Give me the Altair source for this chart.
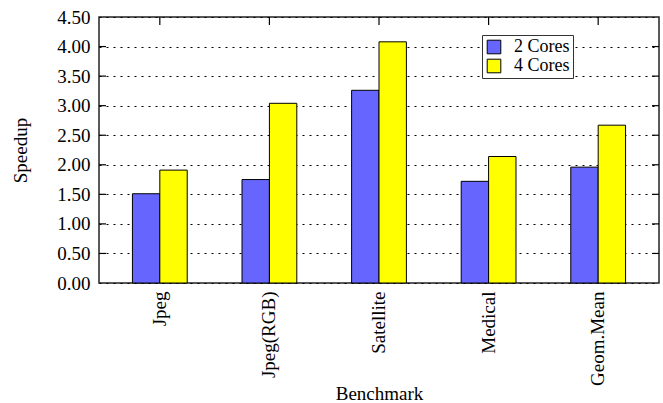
import altair as alt
import pandas as pd

# Benchmarks and measured speedups
benchmarks = ["Jpeg", "Jpeg(RGB)", "Satellite", "Medical", "Geom.Mean"]
cores_2 = [1.51, 1.75, 3.26, 1.72, 1.96]
cores_4 = [1.91, 3.04, 4.08, 2.14, 2.67]
series = ["2 Cores", "4 Cores"]
colors = ["#6666ff", "#ffff00"]
y_ticks = [0.0, 0.5, 1.0, 1.5, 2.0, 2.5, 3.0, 3.5, 4.0, 4.5]
inner_ticks = [0.5, 1.0, 1.5, 2.0, 2.5, 3.0, 3.5, 4.0]

W, H = 560, 266
FONT = "'Liberation Serif', 'Times New Roman', Times, 'DejaVu Serif', serif"

rows = []
for b, v2, v4 in zip(benchmarks, cores_2, cores_4):
    rows.append({"Benchmark": b, "Series": series[0], "Speedup": v2})
    rows.append({"Benchmark": b, "Series": series[1], "Speedup": v4})
df = pd.DataFrame(rows)

x_scale = alt.Scale(domain=benchmarks, paddingInner=0.5, paddingOuter=0.305)
y_scale = alt.Scale(domain=[0, 4.5], nice=False, zero=True)

x_axis = alt.Axis(
    title="Benchmark",
    labelAngle=-90,
    labelPadding=8,
    labelOverlap=False,
    ticks=False,
    domain=False,
    titleY=116,
    titleBaseline="alphabetic",
)
y_axis = alt.Axis(
    title="Speedup",
    values=y_ticks,
    format=".2f",
    labelOverlap=False,
    ticks=False,
    domain=False,
    labelPadding=9,
    titlePadding=26,
    grid=True,
    gridColor="black",
    gridDash=[2, 5],
    gridWidth=1,
    gridOpacity=1,
)

bars = alt.Chart(df).mark_bar(stroke="black", strokeWidth=1).encode(
    x=alt.X("Benchmark:N", scale=x_scale, sort=benchmarks, axis=x_axis),
    xOffset=alt.XOffset("Series:N", sort=series, scale=alt.Scale(paddingInner=0, paddingOuter=0)),
    y=alt.Y("Speedup:Q", scale=y_scale, axis=y_axis),
    color=alt.Color(
        "Series:N",
        sort=series,
        scale=alt.Scale(domain=series, range=colors),
        legend=alt.Legend(
            title=None,
            orient="none",
            legendX=383,
            legendY=18,
            symbolType="square",
            symbolSize=185,
            symbolStrokeColor="black",
            symbolStrokeWidth=1,
            symbolOpacity=1,
            labelFont=FONT,
            labelFontSize=18,
            labelColor="black",
            labelOffset=11,
            rowPadding=1,
            padding=3,
            strokeColor="#333333",
            fillColor="white",
        ),
    ),
)

# Inward tick marks on the left, right and top edges of the frame
tick_df = pd.DataFrame({"v": inner_ticks})
left_ticks = alt.Chart(tick_df).mark_rule(color="black", strokeWidth=1.2).encode(
    x=alt.value(0), x2=alt.value(7), y=alt.Y("v:Q", scale=y_scale, axis=y_axis)
)
right_ticks = alt.Chart(tick_df).mark_rule(color="black", strokeWidth=1.2).encode(
    x=alt.value(W - 7), x2=alt.value(W), y=alt.Y("v:Q", scale=y_scale, axis=y_axis)
)
cat_df = pd.DataFrame({"Benchmark": benchmarks})
top_ticks = alt.Chart(cat_df).mark_rule(color="black", strokeWidth=1.2).encode(
    x=alt.X("Benchmark:N", scale=x_scale, sort=benchmarks, axis=x_axis),
    y=alt.value(0),
    y2=alt.value(8),
)

chart = (
    alt.layer(bars, left_ticks, right_ticks, top_ticks)
    .properties(
        width=W,
        height=H,
        autosize="none",
        padding={"left": 99, "top": 17, "right": 4, "bottom": 120},
    )
    .configure_view(stroke="#222222", strokeWidth=1.5)
    .configure_axis(
        labelFont=FONT,
        titleFont=FONT,
        labelFontSize=19,
        titleFontSize=19,
        titleFontWeight="normal",
        labelColor="black",
        titleColor="black",
    )
)

chart.save("out.html", embed_options={"renderer": "svg", "actions": False})
